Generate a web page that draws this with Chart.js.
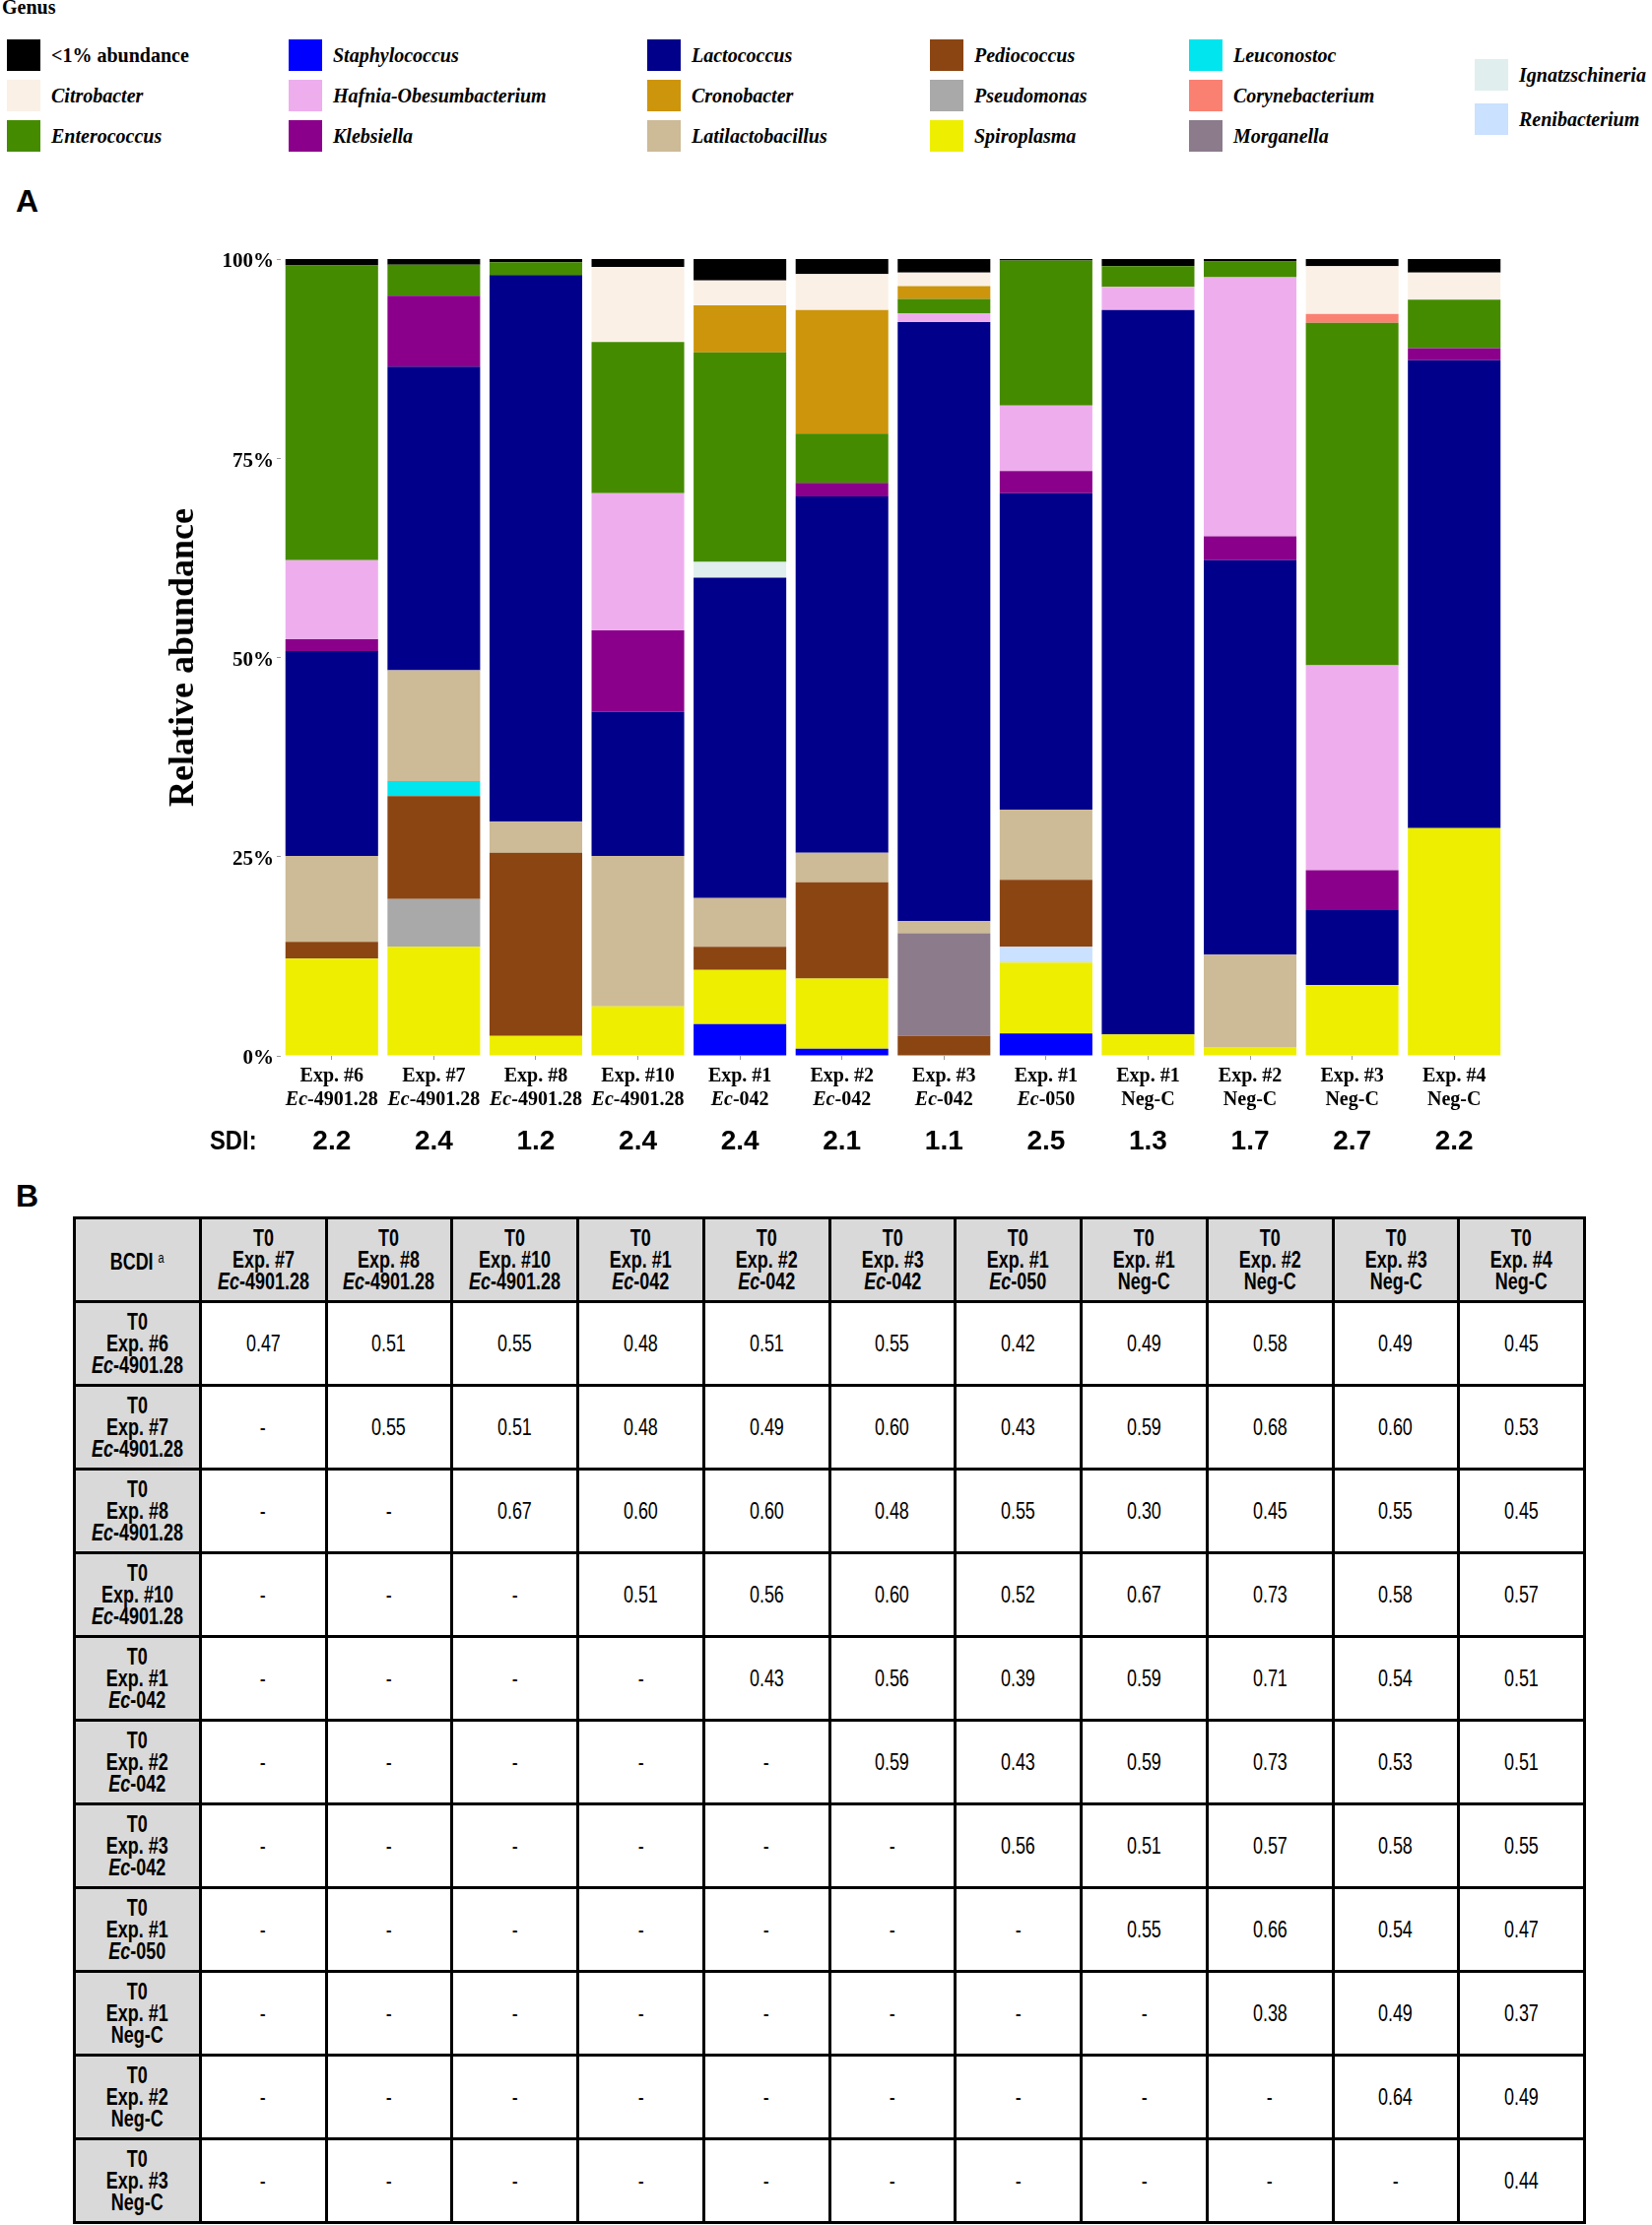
<!DOCTYPE html>
<html>
<head>
<meta charset="utf-8">
<script src="https://cdn.jsdelivr.net/npm/chart.js@4.4.1/dist/chart.umd.min.js"></script>
<style>
html, body { margin: 0; padding: 0; background: #fff; }
body { width: 1677px; height: 2259px; position: relative; overflow: hidden; font-family: "Liberation Serif", serif; color: #000; }
#genus { position: absolute; left: 2px; top: -4px; font: bold 20px "Liberation Serif", serif; }
.leg { position: absolute; height: 32px; display: flex; align-items: center; font: italic bold 20px "Liberation Serif", serif; white-space: nowrap; }
.leg.plain { font-style: normal; }
.leg .sw { width: 34px; height: 32px; margin-right: 11px; flex: none; }
.panel { position: absolute; font: bold 32px "Liberation Sans", Arial, sans-serif; }
#chartBox { position: absolute; left: 0; top: 240px; width: 1677px; height: 960px; }
#bcdi { position: absolute; left: 74px; top: 1235px; width: 1536px; border-collapse: collapse; table-layout: fixed;
        font-family: "Liberation Sans", Arial, sans-serif; }
#bcdi td { border: 3px solid #000; text-align: center; vertical-align: middle; padding: 0; font-size: 23px; line-height: 22px; }
#bcdi tr { height: 85px; }
#bcdi td.h { background: #d9d9d9; font-weight: bold; }
#bcdi td span { display: inline-block; transform: scaleX(0.78); white-space: nowrap; }
#bcdi sup { font-size: 14px; font-weight: normal; vertical-align: 7px; }
</style>
</head>
<body>
<div id="genus">Genus</div>
<div id="legend"></div>
<div class="panel" style="left:16px; top:186px;">A</div>
<div class="panel" style="left:16px; top:1196px;">B</div>
<div id="chartBox"><canvas id="abundanceChart"></canvas></div>
<table id="bcdi"></table>

<script>
// Samples (bars, left to right)
const sampleExp = ['Exp. #6', 'Exp. #7', 'Exp. #8', 'Exp. #10', 'Exp. #1', 'Exp. #2', 'Exp. #3', 'Exp. #1', 'Exp. #1', 'Exp. #2', 'Exp. #3', 'Exp. #4'];
const sampleGroup = ['Ec-4901.28', 'Ec-4901.28', 'Ec-4901.28', 'Ec-4901.28', 'Ec-042', 'Ec-042', 'Ec-042', 'Ec-050', 'Neg-C', 'Neg-C', 'Neg-C', 'Neg-C'];
const sdi = ['2.2', '2.4', '1.2', '2.4', '2.4', '2.1', '1.1', '2.5', '1.3', '1.7', '2.7', '2.2'];
const yTicks = [0, 25, 50, 75, 100];

// Relative abundance (%) per genus, one value per sample
const lowAbundance      = [0.8, 0.7, 0.4, 1.0, 2.7, 1.9, 1.7, 0.2, 0.9, 0.3, 0.9, 1.7];
const citrobacter       = [0, 0, 0, 9.4, 3.1, 4.5, 1.7, 0, 0, 0, 6.0, 3.4];
const corynebacterium   = [0, 0, 0, 0, 0, 0, 0, 0, 0, 0, 1.1, 0];
const cronobacter       = [0, 0, 0, 0, 5.9, 15.5, 1.6, 0, 0, 0, 0, 0];
const enterococcus      = [37.0, 3.9, 1.6, 19.0, 26.3, 6.2, 1.8, 18.2, 2.6, 2.0, 43.0, 6.1];
const hafnia            = [9.9, 0, 0, 17.2, 0, 0, 1.1, 8.2, 2.9, 32.5, 25.7, 0];
const ignatzschineria   = [0, 0, 0, 0, 2.0, 0, 0, 0, 0, 0, 0, 0];
const klebsiella        = [1.5, 8.9, 0, 10.2, 0, 1.7, 0, 2.8, 0, 3.0, 5.0, 1.5];
const lactococcus       = [25.7, 38.1, 68.6, 18.1, 40.2, 44.7, 75.2, 39.7, 90.9, 49.5, 9.4, 58.7];
const latilactobacillus = [10.8, 13.9, 3.9, 18.9, 6.1, 3.7, 1.5, 8.8, 0, 11.6, 0, 0];
const leuconostoc       = [0, 1.9, 0, 0, 0, 0, 0, 0, 0, 0, 0, 0];
const morganella        = [0, 0, 0, 0, 0, 0, 12.9, 0, 0, 0, 0, 0];
const pediococcus       = [2.1, 12.9, 23.0, 0, 2.9, 12.1, 2.5, 8.4, 0, 0, 0, 0];
const pseudomonas       = [0, 6.0, 0, 0, 0, 0, 0, 0, 0, 0, 0, 0];
const renibacterium     = [0, 0, 0, 0, 0, 0, 0, 2.0, 0, 0, 0, 0];
const spiroplasma       = [12.2, 13.7, 2.5, 6.2, 6.8, 8.8, 0, 8.9, 2.7, 1.1, 8.9, 28.6];
const staphylococcus    = [0, 0, 0, 0, 4.0, 0.9, 0, 2.8, 0, 0, 0, 0];

// BCDI table: rows = samples 0..10, columns = samples 1..11, null = "-"
const bcdiRow1  = [0.47, 0.51, 0.55, 0.48, 0.51, 0.55, 0.42, 0.49, 0.58, 0.49, 0.45];
const bcdiRow2  = [null, 0.55, 0.51, 0.48, 0.49, 0.60, 0.43, 0.59, 0.68, 0.60, 0.53];
const bcdiRow3  = [null, null, 0.67, 0.60, 0.60, 0.48, 0.55, 0.30, 0.45, 0.55, 0.45];
const bcdiRow4  = [null, null, null, 0.51, 0.56, 0.60, 0.52, 0.67, 0.73, 0.58, 0.57];
const bcdiRow5  = [null, null, null, null, 0.43, 0.56, 0.39, 0.59, 0.71, 0.54, 0.51];
const bcdiRow6  = [null, null, null, null, null, 0.59, 0.43, 0.59, 0.73, 0.53, 0.51];
const bcdiRow7  = [null, null, null, null, null, null, 0.56, 0.51, 0.57, 0.58, 0.55];
const bcdiRow8  = [null, null, null, null, null, null, null, 0.55, 0.66, 0.54, 0.47];
const bcdiRow9  = [null, null, null, null, null, null, null, null, 0.38, 0.49, 0.37];
const bcdiRow10 = [null, null, null, null, null, null, null, null, null, 0.64, 0.49];
const bcdiRow11 = [null, null, null, null, null, null, null, null, null, null, 0.44];

// genus -> [data, colour], listed top of stack first
const genera = [
    ['<1% abundance', lowAbundance, '#000000'],
    ['Citrobacter', citrobacter, '#FAF0E6'],
    ['Corynebacterium', corynebacterium, '#FA8072'],
    ['Cronobacter', cronobacter, '#CD950C'],
    ['Enterococcus', enterococcus, '#458B00'],
    ['Hafnia-Obesumbacterium', hafnia, '#EEAEEE'],
    ['Ignatzschineria', ignatzschineria, '#E0EEEE'],
    ['Klebsiella', klebsiella, '#8B008B'],
    ['Lactococcus', lactococcus, '#00008B'],
    ['Latilactobacillus', latilactobacillus, '#CDBA96'],
    ['Leuconostoc', leuconostoc, '#00E5EE'],
    ['Morganella', morganella, '#8B7B8B'],
    ['Pediococcus', pediococcus, '#8B4513'],
    ['Pseudomonas', pseudomonas, '#A9A9A9'],
    ['Renibacterium', renibacterium, '#CAE1FF'],
    ['Spiroplasma', spiroplasma, '#EEEE00'],
    ['Staphylococcus', staphylococcus, '#0000FF']
];
const colourOf = {};
genera.forEach(g => colourOf[g[0]] = g[2]);

// Legend, laid out in columns like the figure
const legendCols = [
    { x: 7,    rows: [56, 97, 138], names: ['<1% abundance', 'Citrobacter', 'Enterococcus'] },
    { x: 293,  rows: [56, 97, 138], names: ['Staphylococcus', 'Hafnia-Obesumbacterium', 'Klebsiella'] },
    { x: 657,  rows: [56, 97, 138], names: ['Lactococcus', 'Cronobacter', 'Latilactobacillus'] },
    { x: 944,  rows: [56, 97, 138], names: ['Pediococcus', 'Pseudomonas', 'Spiroplasma'] },
    { x: 1207, rows: [56, 97, 138], names: ['Leuconostoc', 'Corynebacterium', 'Morganella'] },
    { x: 1497, rows: [76, 121],     names: ['Ignatzschineria', 'Renibacterium'] }
];
const legendEl = document.getElementById('legend');
legendCols.forEach(col => {
    col.names.forEach((name, r) => {
        const d = document.createElement('div');
        d.className = 'leg' + (name.startsWith('<') ? ' plain' : '');
        d.style.left = col.x + 'px';
        d.style.top = (col.rows[r] - 16) + 'px';
        const sw = document.createElement('span');
        sw.className = 'sw';
        sw.style.background = colourOf[name];
        d.appendChild(sw);
        d.appendChild(document.createTextNode(name));
        legendEl.appendChild(d);
    });
});

// x labels (with italic "Ec") and SDI row, placed with the x scale
const sdiFont = 'bold 28px "Liberation Sans", Arial, sans-serif';
const xLabelPlugin = {
    id: 'xLabels',
    afterDraw(chart) {
        const ctx = chart.ctx, xs = chart.scales.x, base = chart.chartArea.bottom;
        ctx.save();
        ctx.fillStyle = '#000';
        ctx.textBaseline = 'middle';
        sampleExp.forEach((exp, i) => {
            const cx = xs.getPixelForValue(i);
            ctx.textAlign = 'center';
            ctx.font = 'bold 20px "Liberation Serif"';
            ctx.fillText(exp, cx, base + 21);
            const grp = sampleGroup[i];
            if (grp.startsWith('Ec-')) {
                ctx.textAlign = 'left';
                ctx.font = 'italic bold 20px "Liberation Serif"';
                const w1 = ctx.measureText('Ec').width;
                ctx.font = 'bold 20px "Liberation Serif"';
                const rest = grp.slice(2);
                const w2 = ctx.measureText(rest).width;
                const x0 = cx - (w1 + w2) / 2;
                ctx.font = 'italic bold 20px "Liberation Serif"';
                ctx.fillText('Ec', x0, base + 45);
                ctx.font = 'bold 20px "Liberation Serif"';
                ctx.fillText(rest, x0 + w1, base + 45);
            } else {
                ctx.fillText(grp, cx, base + 45);
            }
            ctx.textAlign = 'center';
            ctx.font = sdiFont;
            ctx.fillText(sdi[i], cx, base + 87);
        });
        // "SDI:" a little condensed, like the figure
        ctx.textAlign = 'left';
        ctx.font = sdiFont;
        ctx.translate(213, base + 87);
        ctx.scale(0.85, 1);
        ctx.fillText('SDI:', 0, 0);
        ctx.restore();
    }
};

new Chart(document.getElementById('abundanceChart'), {
    type: 'bar',
    data: {
        labels: sampleExp.map((e, i) => e + ' ' + sampleGroup[i]),
        datasets: genera.slice().reverse().map(g => ({
            label: g[0], data: g[1], backgroundColor: g[2], borderWidth: 0,
            barPercentage: 0.908, categoryPercentage: 1
        }))
    },
    options: {
        responsive: true, maintainAspectRatio: false, animation: false,
        layout: { padding: { left: 140, right: 149, top: 23, bottom: 118 } },
        plugins: { legend: { display: false }, tooltip: { enabled: false } },
        scales: {
            x: {
                stacked: true,
                ticks: { display: false },
                border: { display: false },
                grid: { display: true, offset: false, drawOnChartArea: false, drawTicks: true, tickLength: 4, color: '#999' },
                afterFit: s => { s.height = 10; }
            },
            y: {
                stacked: true, min: 0, max: 100,
                afterBuildTicks: s => { s.ticks = yTicks.map(v => ({ value: v })); },
                ticks: { callback: v => v + '%', padding: 3, labelOffset: 3, color: '#000',
                         font: { family: 'Liberation Serif', weight: 'bold', size: 21 } },
                border: { display: false },
                grid: { drawOnChartArea: false, drawTicks: true, tickLength: 4, color: '#999' },
                title: { display: true, text: 'Relative abundance', color: '#000', padding: { top: 25, bottom: 0 },
                         font: { family: 'Liberation Serif', weight: 'bold', size: 36 } },
                afterFit: s => { s.width = 145; }
            }
        }
    },
    plugins: [xLabelPlugin]
});

// Table B
const bcdiRows = [bcdiRow1, bcdiRow2, bcdiRow3, bcdiRow4, bcdiRow5, bcdiRow6, bcdiRow7, bcdiRow8, bcdiRow9, bcdiRow10, bcdiRow11];
function sampleCell(i) {
    const g = sampleGroup[i];
    const gHtml = g.startsWith('Ec-') ? '<i>Ec</i>' + g.slice(2) : g;
    return '<span>T0<br>' + sampleExp[i] + '<br>' + gHtml + '</span>';
}
let html = '<tr><td class="h"><span>BCDI <sup>a</sup></span></td>';
for (let c = 1; c < sampleExp.length; c++) html += '<td class="h">' + sampleCell(c) + '</td>';
html += '</tr>';
bcdiRows.forEach((row, r) => {
    html += '<tr><td class="h">' + sampleCell(r) + '</td>';
    row.forEach(v => { html += '<td><span>' + (v === null ? '-' : v.toFixed(2)) + '</span></td>'; });
    html += '</tr>';
});
document.getElementById('bcdi').innerHTML = html;
</script>
</body>
</html>
